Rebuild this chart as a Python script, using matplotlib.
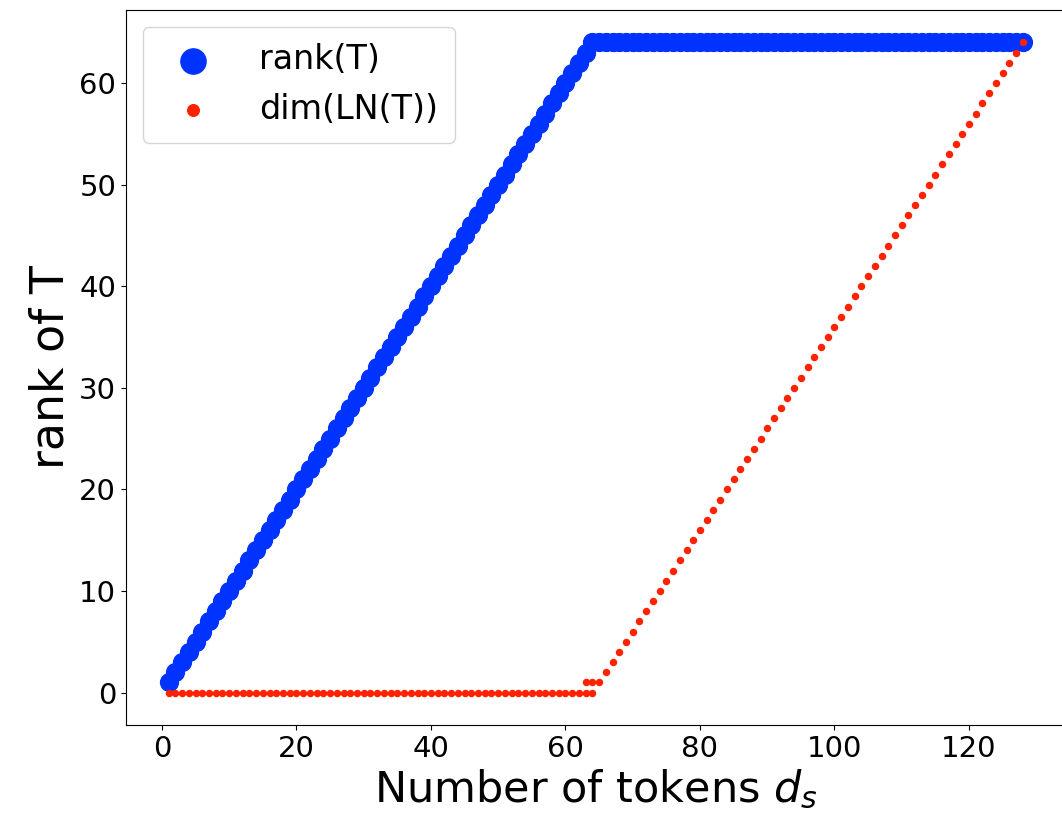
import matplotlib
matplotlib.use("Agg")
import matplotlib.pyplot as plt

# number of tokens d_s
tokens = list(range(1, 129))

# rank(T) for each d_s
rank_T = [
    1, 2, 3, 4, 5, 6, 7, 8, 9, 10, 11, 12, 13, 14, 15, 16,
    17, 18, 19, 20, 21, 22, 23, 24, 25, 26, 27, 28, 29, 30, 31, 32,
    33, 34, 35, 36, 37, 38, 39, 40, 41, 42, 43, 44, 45, 46, 47, 48,
    49, 50, 51, 52, 53, 54, 55, 56, 57, 58, 59, 60, 61, 62, 63, 64,
    64, 64, 64, 64, 64, 64, 64, 64, 64, 64, 64, 64, 64, 64, 64, 64,
    64, 64, 64, 64, 64, 64, 64, 64, 64, 64, 64, 64, 64, 64, 64, 64,
    64, 64, 64, 64, 64, 64, 64, 64, 64, 64, 64, 64, 64, 64, 64, 64,
    64, 64, 64, 64, 64, 64, 64, 64, 64, 64, 64, 64, 64, 64, 64, 64,
]

# dim(LN(T)) for each d_s
dim_LN = [
    0, 0, 0, 0, 0, 0, 0, 0, 0, 0, 0, 0, 0, 0, 0, 0,
    0, 0, 0, 0, 0, 0, 0, 0, 0, 0, 0, 0, 0, 0, 0, 0,
    0, 0, 0, 0, 0, 0, 0, 0, 0, 0, 0, 0, 0, 0, 0, 0,
    0, 0, 0, 0, 0, 0, 0, 0, 0, 0, 0, 0, 0, 0, 0, 0,
    1, 2, 3, 4, 5, 6, 7, 8, 9, 10, 11, 12, 13, 14, 15, 16,
    17, 18, 19, 20, 21, 22, 23, 24, 25, 26, 27, 28, 29, 30, 31, 32,
    33, 34, 35, 36, 37, 38, 39, 40, 41, 42, 43, 44, 45, 46, 47, 48,
    49, 50, 51, 52, 53, 54, 55, 56, 57, 58, 59, 60, 61, 62, 63, 64,
]

# repeated runs near d_s = 64 that came out with dim 1
extra_tokens = [63, 64]
extra_dim = [1, 1]

BLUE = "#0033ff"
RED = "#ff2200"

fig = plt.figure(figsize=(10.62, 8.25), dpi=100)
ax = fig.add_axes([0.1186, 0.1212, 0.8847, 0.8667])

ax.scatter(tokens, rank_T, s=165, color=BLUE, label="rank(T)", zorder=2)
ax.scatter(tokens + extra_tokens, dim_LN + extra_dim, s=19, marker="o",
           color=RED, label="dim(LN(T))", zorder=3)

ax.set_xlim(-5.35, 134.35)
ax.set_ylim(-3.2, 67.2)
ax.set_xticks([0, 20, 40, 60, 80, 100, 120])
ax.set_yticks([0, 10, 20, 30, 40, 50, 60])
ax.tick_params(labelsize=21)
ax.spines["right"].set_visible(False)
ax.set_xlabel("Number of tokens $d_s$", fontsize=31)
ax.set_ylabel("rank of T", fontsize=33)

leg = ax.legend(loc="upper left", fontsize=24, handletextpad=1.0,
                borderpad=0.5, labelspacing=0.5)
leg.legend_handles[0].set_sizes([330])
leg.legend_handles[1].set_sizes([70])

fig.savefig("out.png", dpi=100)
